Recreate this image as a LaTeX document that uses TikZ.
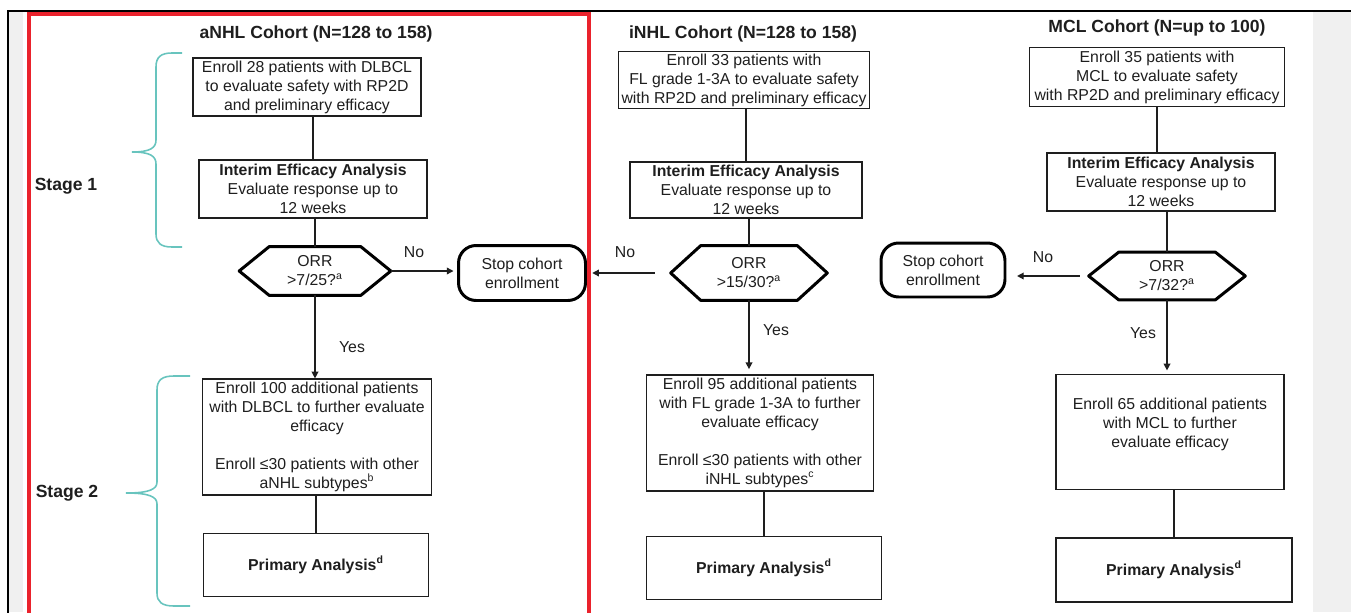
\documentclass[tikz,border=0pt]{standalone}
\usepackage{fontspec}
\setmainfont{Liberation Sans}
\usepackage{tikz}
\usetikzlibrary{arrows.meta,positioning,calc}

\definecolor{framered}{RGB}{234,34,44}
\definecolor{braceteal}{RGB}{104,196,190}
\definecolor{sidegray}{RGB}{240,240,240}
\definecolor{inkgray}{RGB}{30,30,30}

\tikzset{
  cbox/.style={draw=inkgray, line width=0.7pt, rectangle, align=center, inner sep=1pt,
    text=inkgray, font=\fontsize{9}{10.8}\selectfont},
  decision/.style={rectangle, align=center, inner sep=1pt, text=inkgray,
    font=\fontsize{9}{10.8}\selectfont},
  hexline/.style={draw=black, line width=1.7pt, line join=round},
  stopbox/.style={draw=black, line width=1.7pt, rounded corners=10pt, align=center,
    inner sep=1pt, text=inkgray, font=\fontsize{9}{10.8}\selectfont},
  cohort/.style={font=\bfseries\fontsize{10}{12}\selectfont, text=inkgray},
  stagelbl/.style={font=\bfseries\fontsize{10}{12}\selectfont, text=inkgray},
  answer/.style={font=\fontsize{9}{10.8}\selectfont, text=inkgray},
  flow/.style={line width=0.75pt, draw=inkgray},
  stagebrace/.style={draw=braceteal, line width=0.9pt},
}

\begin{document}
\begin{tikzpicture}[x=0.02cm, y=-0.02cm, >={Triangle[length=3.8pt,width=3.8pt]}]
    \useasboundingbox (0,0) rectangle (1351,612);
    % page frame
    \fill[sidegray] (9,12) rectangle (23,612);
    \fill[sidegray] (1313,12) rectangle (1351,612);
    \draw[line width=1.2pt] (8,614) -- (8,11) -- (1351,11);
    \draw[framered, line width=2.2pt] (29,614) -- (29,14) -- (589,14) -- (589,614);

    % aNHL cohort
    \node[cohort] (tA) at (316,34) {aNHL Cohort (N=128 to 158)};
    \node[cbox, minimum width=4.56cm, minimum height=1.16cm] (a1) at (307,87)
        {Enroll 28 patients with DLBCL\\to evaluate safety with RP2D\\and preliminary efficacy};
    \node[cbox, minimum width=4.56cm, minimum height=1.16cm] (a2) at (313,189)
        {\textbf{Interim Efficacy Analysis}\\Evaluate response up to\\12 weeks};
    \node[decision, minimum width=3.02cm, minimum height=0.96cm] (ha) at (315,271)
        {ORR\\>7/25?\textsuperscript{a}};
    \node[stopbox, minimum width=2.54cm, minimum height=1.10cm] (sa) at (522,273)
        {Stop cohort\\enrollment};
    \node[cbox, minimum width=4.58cm, minimum height=2.32cm] (a3) at (317,437)
        {Enroll 100 additional patients\\with DLBCL to further evaluate\\efficacy\\[10.8pt]Enroll ≤30 patients with other\\aNHL subtypes\textsuperscript{b}};
    \node[cbox, minimum width=4.50cm, minimum height=1.26cm] (a4) at (316,565)
        {\textbf{Primary Analysis\textsuperscript{d}}};

    % iNHL cohort
    \node[cohort] (tI) at (743,34) {iNHL Cohort (N=128 to 158)};
    \node[cbox, minimum width=5.02cm, minimum height=1.14cm] (i1) at (744,80)
        {Enroll 33 patients with\\FL grade 1-3A to evaluate safety\\with RP2D and preliminary efficacy};
    \node[cbox, minimum width=4.64cm, minimum height=1.12cm] (i2) at (746,190)
        {\textbf{Interim Efficacy Analysis}\\Evaluate response up to\\12 weeks};
    \node[decision, minimum width=3.12cm, minimum height=1.08cm] (hi) at (749,273)
        {ORR\\>15/30?\textsuperscript{a}};
    \node[cbox, minimum width=4.54cm, minimum height=2.32cm] (i3) at (760,433)
        {Enroll 95 additional patients\\with FL grade 1-3A to further\\evaluate efficacy\\[10.8pt]Enroll ≤30 patients with other\\iNHL subtypes\textsuperscript{c}};
    \node[cbox, minimum width=4.70cm, minimum height=1.26cm] (i4) at (764,568)
        {\textbf{Primary Analysis\textsuperscript{d}}};

    % MCL cohort
    \node[cohort] (tM) at (1157,28) {MCL Cohort (N=up to 100)};
    \node[cbox, minimum width=5.10cm, minimum height=1.18cm] (m1) at (1157,77)
        {Enroll 35 patients with\\MCL to evaluate safety\\with RP2D and preliminary efficacy};
    \node[cbox, minimum width=4.56cm, minimum height=1.16cm] (m2) at (1161,182)
        {\textbf{Interim Efficacy Analysis}\\Evaluate response up to\\12 weeks};
    \node[decision, minimum width=3.12cm, minimum height=0.94cm] (hm) at (1167,276)
        {ORR\\>7/32?\textsuperscript{a}};
    \node[stopbox, minimum width=2.48cm, minimum height=1.08cm] (sm) at (943,270)
        {Stop cohort\\enrollment};
    \node[cbox, minimum width=4.56cm, minimum height=2.30cm] (m3) at (1170,432)
        {Enroll 65 additional patients\\with MCL to further\\evaluate efficacy\\\mbox{}};
    \node[cbox, minimum width=4.72cm, minimum height=1.28cm] (m4) at (1174,570)
        {\textbf{Primary Analysis\textsuperscript{d}}};

    % hexagon outlines
    \foreach \h in {ha,hi,hm}
        \draw[hexline] (\h.west) -- ($(\h.north west)+(30,0)$) -- ($(\h.north east)+(-30,0)$)
            -- (\h.east) -- ($(\h.south east)+(-30,0)$) -- ($(\h.south west)+(30,0)$) -- cycle;

    % connectors
    \draw[flow] (a1.south -| a2.north) -- (a2.north);
    \draw[flow] (a2.south -| ha.north) -- (ha.north);
    \draw[flow,->] (ha.south) -- (ha.south |- a3.north);
    \draw[flow] (a3.south -| a4.north) -- (a4.north);
    \draw[flow,->] (ha.east) -- ([xshift=-2pt]ha.east -| sa.west);

    \draw[flow] (i1.south -| i2.north) -- (i2.north);
    \draw[flow] (i2.south -| hi.north) -- (hi.north);
    \draw[flow,->] (hi.south) -- ([yshift=3pt]hi.south |- i3.north);
    \draw[flow] (i3.south -| i4.north) -- (i4.north);
    \draw[flow,->] ([xshift=-9pt]hi.west) -- ([xshift=3pt]hi.west -| sa.east);

    \draw[flow] (m1.south -| m1.south) -- (m1.south |- m2.north);
    \draw[flow] (m2.south -| hm.north) -- (hm.north);
    \draw[flow,->] (hm.south) -- ([yshift=2pt]hm.south |- m3.north);
    \draw[flow] (m3.south -| m4.north) -- (m4.north);
    \draw[flow,->] ([xshift=-5pt]hm.west) -- ([xshift=6pt]hm.west -| sm.east);

    % answers
    \node[answer] (noA) at (414,252) {No};
    \node[answer] (yesA) at (352,347) {Yes};
    \node[answer] (noI) at (625,252) {No};
    \node[answer] (yesI) at (776,330) {Yes};
    \node[answer] (noM) at (1043,257) {No};
    \node[answer] (yesM) at (1143,333) {Yes};

    % stages
    \node[stagelbl] (s1) at (66,186) {Stage 1};
    \node[stagelbl] (s2) at (67,493) {Stage 2};
    \draw[stagebrace] (182,53) -- (172,53) .. controls (161,53) and (156,57) .. (156,67)
        -- (156,140) .. controls (156,148) and (150,152) .. (132,152)
        .. controls (150,152) and (156,156) .. (156,164)
        -- (156,234) .. controls (156,243) and (161,247) .. (172,247) -- (182,247);
    \draw[stagebrace] (190,376) -- (174,376) .. controls (162,376) and (157,380) .. (157,390)
        -- (157,482) .. controls (157,489) and (150,493) .. (126,493)
        .. controls (150,493) and (157,497) .. (157,504)
        -- (157,593) .. controls (157,602) and (162,606) .. (174,606) -- (190,606);
\end{tikzpicture}
\end{document}
